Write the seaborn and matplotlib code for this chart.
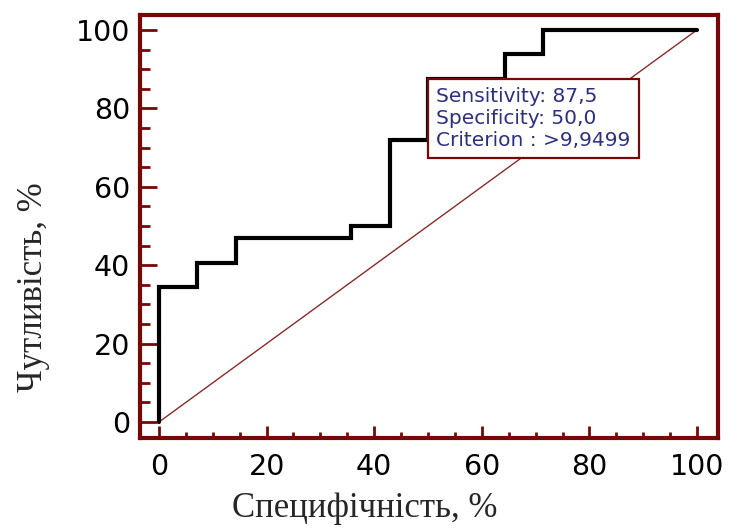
import matplotlib
matplotlib.use("Agg")
import matplotlib.pyplot as plt
from matplotlib.ticker import MultipleLocator
import numpy as np
import pandas as pd
import seaborn as sns

# ROC curve corner points (100 - specificity, sensitivity), in %
fpr = [0, 0, 7.14, 14.29, 35.71, 42.86, 50.0, 64.29, 71.43, 100]
tpr = [0, 34.38, 40.63, 46.88, 50.0, 71.88, 87.5, 93.75, 100, 100]

# Reference (chance) diagonal
diag_x = [0, 100]
diag_y = [0, 100]

# Optimal cut-off point
best_fpr = 50.0
best_tpr = 87.5
info_lines = ["Sensitivity: 87,5", "Specificity: 50,0", "Criterion : >9,9499"]

x_label = "Специфічність, %"
y_label = "Чутливість, %"

sns.set_style("white")
plt.rcParams["font.family"] = ["DejaVu Sans"]

maroon = "#780808"
navy = "#2c3080"

fig = plt.figure(figsize=(7.30, 5.29), dpi=100)
ax = fig.add_axes([140 / 730, 91 / 529, 578 / 730, 423 / 529])

roc = pd.DataFrame({"fpr": fpr, "tpr": tpr})
diag = pd.DataFrame({"x": diag_x, "y": diag_y})

sns.lineplot(data=diag, x="x", y="y", ax=ax, color="#8a2a2a", linewidth=1.0,
             estimator=None, sort=False)
sns.lineplot(data=roc, x="fpr", y="tpr", ax=ax, color="black", linewidth=3.0,
             estimator=None, sort=False, drawstyle="steps-post")
ax.lines[-1].set_solid_joinstyle("miter")

ax.set_xlim(-3.53, 103.9)
ax.set_ylim(-4.08, 103.8)

ax.xaxis.set_major_locator(MultipleLocator(20))
ax.xaxis.set_minor_locator(MultipleLocator(5))
ax.yaxis.set_major_locator(MultipleLocator(20))
ax.yaxis.set_minor_locator(MultipleLocator(5))

ax.tick_params(axis="both", which="both", direction="in", color=maroon,
               bottom=True, left=True, top=False, right=False,
               labelcolor="black")
ax.tick_params(axis="y", which="major", length=12, width=2, labelsize=20.5, pad=7)
ax.tick_params(axis="y", which="minor", length=7, width=2)
ax.tick_params(axis="x", which="major", length=8.5, width=2, labelsize=20.5, pad=11)
ax.tick_params(axis="x", which="minor", length=4, width=2)

for sp in ax.spines.values():
    sp.set_visible(True)
    sp.set_color(maroon)
    sp.set_linewidth(3)

ax.set_xlabel(x_label, family=["Liberation Serif", "DejaVu Serif"], fontsize=25)
ax.set_ylabel(y_label, family=["Liberation Serif", "DejaVu Serif"], fontsize=25)
ax.xaxis.set_label_coords(0.388, -0.128)
ax.yaxis.set_label_coords(-0.156, 0.357)

ax.annotate("\n".join(info_lines), xy=(best_fpr, best_tpr), xycoords="data",
            xytext=(6, -6), textcoords="offset points", ha="left", va="top",
            family=["DejaVu Sans"], fontsize=14.5,
            color=navy, linespacing=1.2,
            bbox=dict(boxstyle="square,pad=0.4", facecolor="white",
                      edgecolor=maroon, linewidth=1.6))

fig.savefig("out.png", dpi=100)
